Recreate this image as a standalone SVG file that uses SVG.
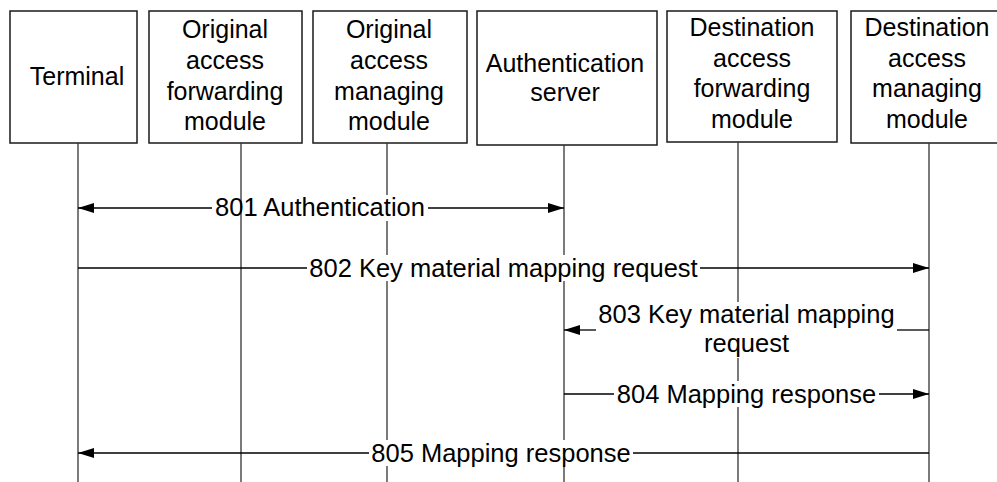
<svg xmlns="http://www.w3.org/2000/svg" width="997" height="482" viewBox="0 0 997 482">
<style>
.box{fill:#fff;stroke:#1a1a1a;stroke-width:1.5}
.bt{font-family:"Liberation Sans",Arial,sans-serif;font-size:25px;fill:#000;text-anchor:middle}
.lt{font-family:"Liberation Sans",Arial,sans-serif;font-size:25.5px;fill:#000;text-anchor:middle}
.life{stroke:#333;stroke-width:1.3;fill:none}
.msg{stroke:#000;stroke-width:1.3;fill:none}
.arr{marker-end:url(#ah)}
.bg{fill:#fff;stroke:none}
</style>
<defs>
<marker id="ah" markerUnits="userSpaceOnUse" markerWidth="17" markerHeight="11" refX="16" refY="5" orient="auto">
<path d="M0,0 L16,5 L0,10 z" fill="#000"/>
</marker>
</defs>
<rect width="997" height="482" fill="#fff"/>
<g id="terminal">
<rect class="box" x="10" y="11" width="127" height="132"/>
<text class="bt" x="77" y="85">Terminal</text>
</g>
<g id="orig-fwd">
<rect class="box" x="149" y="11" width="153" height="132"/>
<text class="bt" x="225" y="38">Original</text>
<text class="bt" x="225" y="69">access</text>
<text class="bt" x="225" y="100">forwarding</text>
<text class="bt" x="225" y="130">module</text>
</g>
<g id="orig-mgr">
<rect class="box" x="313" y="11" width="154" height="132"/>
<text class="bt" x="389" y="38">Original</text>
<text class="bt" x="389" y="69">access</text>
<text class="bt" x="389" y="100">managing</text>
<text class="bt" x="389" y="130">module</text>
</g>
<g id="auth-server">
<rect class="box" x="477" y="11" width="180" height="134"/>
<text class="bt" x="565" y="72">Authentication</text>
<text class="bt" x="565" y="101">server</text>
</g>
<g id="dest-fwd">
<rect class="box" x="667" y="11" width="170" height="131"/>
<text class="bt" x="752" y="36">Destination</text>
<text class="bt" x="752" y="67">access</text>
<text class="bt" x="752" y="97">forwarding</text>
<text class="bt" x="752" y="128">module</text>
</g>
<g id="dest-mgr">
<rect class="box" x="851" y="11" width="160" height="132"/>
<text class="bt" x="927" y="36">Destination</text>
<text class="bt" x="927" y="67">access</text>
<text class="bt" x="927" y="97">managing</text>
<text class="bt" x="927" y="128">module</text>
</g>
<g id="lifelines">
<line class="life" x1="78" y1="143" x2="78" y2="482"/>
<line class="life" x1="241" y1="143" x2="241" y2="482"/>
<line class="life" x1="387" y1="143" x2="387" y2="482"/>
<line class="life" x1="564" y1="145" x2="564" y2="482"/>
<line class="life" x1="738" y1="142" x2="738" y2="482"/>
<line class="life" x1="929" y1="143" x2="929" y2="482"/>
</g>
<g id="connectors">
<g id="m801">
<rect class="bg" x="244" y="195" width="184" height="26"/>
<line class="msg arr" x1="212" y1="208" x2="78" y2="208"/>
<line class="msg arr" x1="428" y1="208" x2="564" y2="208"/>
<text class="lt" x="320" y="216">801 Authentication</text>
</g>
<g id="m802">
<rect class="bg" x="307" y="255" width="393" height="26"/>
<line class="msg" x1="78" y1="268" x2="307" y2="268"/>
<line class="msg arr" x1="700" y1="268" x2="929" y2="268"/>
<text class="lt" x="503.5" y="277">802 Key material mapping request</text>
</g>
<g id="m803">
<rect class="bg" x="596" y="302" width="301" height="56"/>
<line class="msg arr" x1="596" y1="330" x2="564" y2="330"/>
<line class="msg" x1="897" y1="330" x2="929" y2="330"/>
<text class="lt" x="746.5" y="323">803 Key material mapping</text>
<text class="lt" x="746.5" y="352">request</text>
</g>
<g id="m804">
<rect class="bg" x="614" y="381" width="265" height="26"/>
<line class="msg" x1="564" y1="394" x2="614" y2="394"/>
<line class="msg arr" x1="879" y1="394" x2="929" y2="394"/>
<text class="lt" x="746.5" y="403">804 Mapping response</text>
</g>
<g id="m805">
<rect class="bg" x="369" y="440" width="264" height="26"/>
<line class="msg arr" x1="369" y1="453" x2="78" y2="453"/>
<line class="msg" x1="633" y1="453" x2="929" y2="453"/>
<text class="lt" x="501" y="462">805 Mapping response</text>
</g>
</g>
</svg>
